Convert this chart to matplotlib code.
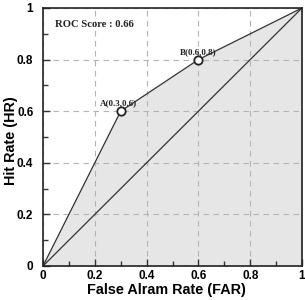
import matplotlib
matplotlib.use("Agg")
import matplotlib.pyplot as plt
from matplotlib.ticker import MultipleLocator

far = [0.0, 0.3, 0.6, 1.0]
hr = [0.0, 0.6, 0.8, 1.0]
point_far = [0.3, 0.6]
point_hr = [0.6, 0.8]
point_labels = ["A(0.3,0.6)", "B(0.6,0.8)"]
roc_score = 0.66
ticks = [0, 0.2, 0.4, 0.6, 0.8, 1]
tick_labels = ["0", "0.2", "0.4", "0.6", "0.8", "1"]

fig = plt.figure(figsize=(3.05, 3.0), dpi=100)
ax = fig.add_axes([43/305, 34/300, 259/305, 258/300])

ax.fill_between(far, hr, 0, color="#e6e6e6", zorder=0)
ax.grid(True, linestyle=(0, (5, 4)), color="#b4b4b4", linewidth=0.8, zorder=1)
ax.plot([0, 1], [0, 1], color="#333333", linewidth=0.9, zorder=2)
ax.plot(far, hr, color="#333333", linewidth=0.9, zorder=2)
ax.plot(point_far, point_hr, "o", markersize=6, markerfacecolor="white",
        markeredgecolor="#222222", markeredgewidth=1.3, linestyle="none", zorder=3)

ax.text(0.29, 0.615, point_labels[0], fontsize=6.5, fontweight="bold", family="Liberation Serif",
        ha="center", va="bottom", color="#222222")
ax.text(0.6, 0.815, point_labels[1], fontsize=6.5, fontweight="bold", family="Liberation Serif",
        ha="center", va="bottom", color="#222222")
ax.text(0.045, 0.955, f"ROC Score : {roc_score}", fontsize=7.7, fontweight="bold",
        family="Liberation Serif", ha="left", va="top", color="#222222")

ax.set_xlim(0, 1)
ax.set_ylim(0, 1)
ax.set_xticks(ticks)
ax.set_yticks(ticks)
ax.set_xticklabels(tick_labels, fontsize=8.5, fontweight="bold", family="Liberation Sans")
ax.set_yticklabels(tick_labels, fontsize=8.5, fontweight="bold", family="Liberation Sans")
ax.xaxis.set_minor_locator(MultipleLocator(0.1))
ax.yaxis.set_minor_locator(MultipleLocator(0.1))
ax.tick_params(which="both", direction="in", top=False, right=False, color="#333333", width=1)
ax.tick_params(which="major", length=5)
ax.tick_params(which="minor", length=3.5)
ax.tick_params(axis="x", which="major", pad=3)
ax.tick_params(axis="y", which="major", pad=7)
for s in ax.spines.values():
    s.set_linewidth(1.2)
    s.set_color("#222222")

ax.set_xlabel("False Alram Rate (FAR)", fontsize=10.4, fontweight="bold", family="Liberation Sans")
ax.set_ylabel("Hit Rate (HR)", fontsize=10.4, fontweight="bold", family="Liberation Sans")
ax.xaxis.set_label_coords(0.477, -0.066)
ax.yaxis.set_label_coords(-0.097, 0.486)

fig.savefig("out.png", dpi=100)
